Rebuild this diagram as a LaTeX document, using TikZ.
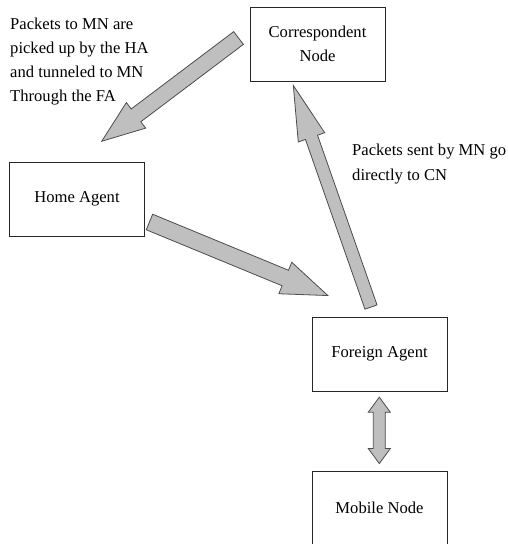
\documentclass[tikz,border=0pt]{standalone}
\usepackage{fontspec}
\setmainfont{Liberation Serif}
\usetikzlibrary{calc}

\newcommand\labelfont{\fontsize{16.6}{24}\selectfont}
\newcommand\widenotefont{\fontsize{16.6}{25}\selectfont}

\tikzset{
  box/.style={draw=black!85, line width=0.9pt, fill=white,
    minimum width=135pt, minimum height=74pt, inner sep=0pt,
    align=center, font=\labelfont},
  blockarrow/.style={draw=black!70, line width=0.8pt, fill=black!25,
    line join=miter},
  note/.style={inner sep=0pt, align=left, anchor=base west, font=\labelfont},
}

% Single block arrow: #1 tail, #2 tip, #3 half shaft width,
% #4 half head width, #5 head length
\newcommand\blockarrowto[5]{%
  \coordinate (ba-h) at ($(#2)!#5!(#1)$);
  \draw[blockarrow]
    ($(#1)!#3!90:(#2)$) -- ($(ba-h)!#3!90:(#2)$) -- ($(ba-h)!#4!90:(#2)$)
    -- (#2)
    -- ($(ba-h)!#4!-90:(#2)$) -- ($(ba-h)!#3!-90:(#2)$) -- ($(#1)!#3!-90:(#2)$)
    -- cycle;}

% Double-headed block arrow between #1 and #2
\newcommand\blockarrowboth[5]{%
  \coordinate (bb-a) at ($(#1)!#5!(#2)$);
  \coordinate (bb-b) at ($(#2)!#5!(#1)$);
  \draw[blockarrow]
    (#1) -- ($(bb-a)!#4!90:(#2)$) -- ($(bb-a)!#3!90:(#2)$)
    -- ($(bb-b)!#3!-90:(#1)$) -- ($(bb-b)!#4!-90:(#1)$)
    -- (#2)
    -- ($(bb-b)!#4!90:(#1)$) -- ($(bb-b)!#3!90:(#1)$)
    -- ($(bb-a)!#3!-90:(#2)$) -- ($(bb-a)!#4!-90:(#2)$)
    -- cycle;}

\begin{document}
\begin{tikzpicture}[x=1pt,y=-1pt]
\useasboundingbox (0,0) rectangle (508,544);
\clip (0,0) rectangle (508,544);

% entities
\node[box] (cn) at (317.5,44) {Correspondent\\Node};
\node[box] (ha) at (77,199) {Home Agent};
\node[box] (fa) at (379.5,354) {Foreign Agent};
\node[box] (mn) at (379.5,508) {Mobile Node};

% arrow end points next to the boxes
\coordinate (cn-out) at ($(cn.west)+(-11,-6)$);
\coordinate (ha-in)  at ($(ha.north)+(24.7,-20.3)$);
\coordinate (ha-out) at ($(ha.east)+(4.5,23)$);
\coordinate (fa-in)  at ($(fa.north west)+(16.3,-21)$);
\coordinate (fa-out) at ($(fa.north)+(-8.5,-9.5)$);
\coordinate (cn-in)  at ($(cn.south)+(-24.2,4)$);
\coordinate (fa-mn)  at ($(fa.south)+(-0.2,5.7)$);
\coordinate (mn-fa)  at ($(mn.north)+(-0.2,-7)$);

% packet flows
\blockarrowto{cn-out}{ha-in}{8pt}{16pt}{43pt}
\blockarrowto{ha-out}{fa-in}{8.4pt}{17pt}{46pt}
\blockarrowto{fa-out}{cn-in}{6.4pt}{14pt}{55pt}
\blockarrowboth{fa-mn}{mn-fa}{6pt}{11pt}{15pt}

% notes (anchored at the baseline of their last line)
\node[note] (tunnel) at (10,101)
  {Packets to MN are\\picked up by the HA\\and tunneled to MN\\Through the FA};
\node[note, font=\widenotefont] (direct) at (352,180)
  {Packets sent by MN go\\directly to CN};
\end{tikzpicture}
\end{document}
